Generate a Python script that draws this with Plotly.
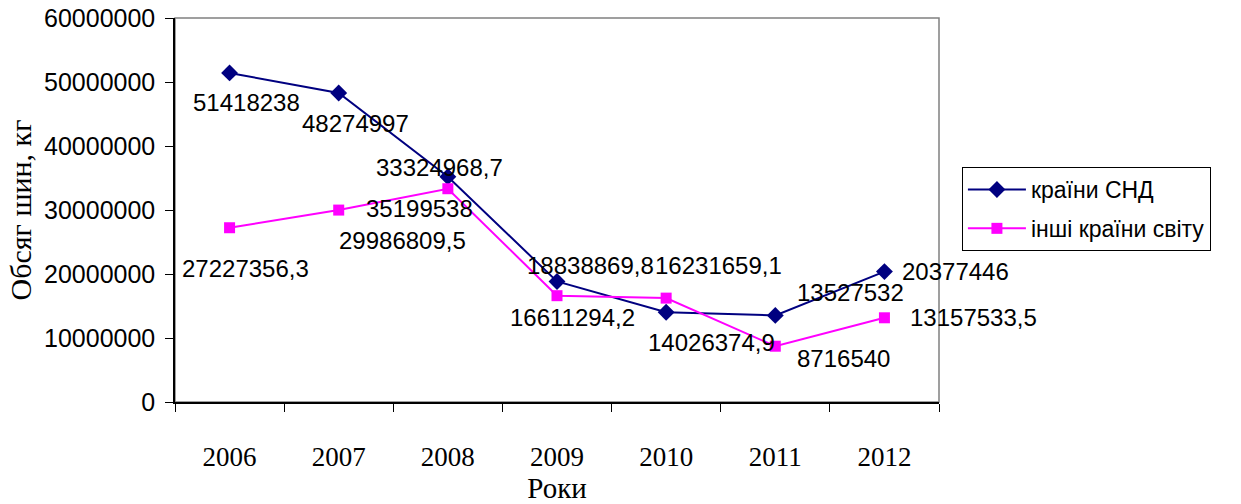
import plotly.graph_objects as go

# Tyre volumes by year, kg
years = ["2006", "2007", "2008", "2009", "2010", "2011", "2012"]
cis_values = [51418238, 48274997, 35199538, 18838869.8, 14026374.9, 13527532, 20377446]
other_values = [27227356.3, 29986809.5, 33324968.7, 16611294.2, 16231659.1, 8716540, 13157533.5]
series_names = ["країни СНД", "інші країни світу"]
y_ticks = [0, 10000000, 20000000, 30000000, 40000000, 50000000, 60000000]

# pixel offsets of each value label relative to its marker (dx right, dy down)
cis_label_offsets = [(17, 30), (17, 30), (-28, 32), (33, -16), (45, 30), (75, -23), (71, 0)]
other_label_offsets = [(16, 41), (64, 30), (-8, -21), (15, 22), (52, -33), (68, 12), (89, 0)]


def fmt(v):
    if float(v).is_integer():
        return str(int(v))
    return f"{v:.1f}".replace(".", ",")


fig = go.Figure()
fig.add_trace(go.Scatter(
    x=years, y=cis_values, name=series_names[0], mode="lines+markers",
    line=dict(color="#000080", width=2),
    marker=dict(symbol="diamond", size=13, color="#000080"),
    legendgroup="a",
))
fig.add_trace(go.Scatter(
    x=years, y=other_values, name=series_names[1], mode="lines+markers",
    line=dict(color="#FF00FF", width=2),
    marker=dict(symbol="square", size=11, color="#FF00FF"),
    legendgroup="b",
))

label_font = dict(family="Liberation Sans, Arial", size=24, color="black")
for vals, offs in ((cis_values, cis_label_offsets), (other_values, other_label_offsets)):
    for i, (v, (dx, dy)) in enumerate(zip(vals, offs)):
        fig.add_annotation(x=i, y=v, xref="x", yref="y", text=fmt(v), showarrow=False,
                           xshift=dx, yshift=-dy, font=label_font)

# plot-area frame
fig.add_shape(type="rect", xref="paper", yref="paper", x0=0, y0=0, x1=1, y1=1,
              line=dict(color="#808080", width=1.5), layer="below")

fig.update_layout(
    width=1241, height=504,
    margin=dict(l=175, r=302, t=18, b=102),
    paper_bgcolor="white", plot_bgcolor="white",
    showlegend=True,
    legend=dict(
        x=1.03, y=0.612, xanchor="left", yanchor="top",
        bordercolor="black", borderwidth=1, bgcolor="white",
        font=dict(family="Liberation Sans, Arial", size=23, color="black"),
        tracegroupgap=6, itemwidth=58,
    ),
    xaxis=dict(
        type="category", range=[-0.5, 6.5], automargin=False,
        showline=True, linecolor="black", linewidth=1.5,
        ticks="outside", tickson="boundaries", ticklen=8, tickcolor="black",
        showgrid=False, zeroline=False,
        tickfont=dict(family="Liberation Serif, Times New Roman", size=27, color="black"),
        ticklabelstandoff=30,
        title=dict(text="Роки", standoff=0,
                   font=dict(family="Liberation Serif, Times New Roman", size=29, color="black")),
    ),
    yaxis=dict(
        range=[0, 60000000], tickvals=y_ticks, automargin=False,
        ticktext=[str(t) for t in y_ticks],
        showline=True, linecolor="black", linewidth=1.5,
        ticks="outside", ticklen=8, tickcolor="black",
        showgrid=False, zeroline=False,
        tickfont=dict(family="Liberation Sans, Arial", size=25, color="black"),
        ticklabelstandoff=5,
        title=dict(text="Обсяг шин, кг", standoff=4,
                   font=dict(family="Liberation Serif, Times New Roman", size=30, color="black")),
    ),
)

fig.write_html("out.html")
